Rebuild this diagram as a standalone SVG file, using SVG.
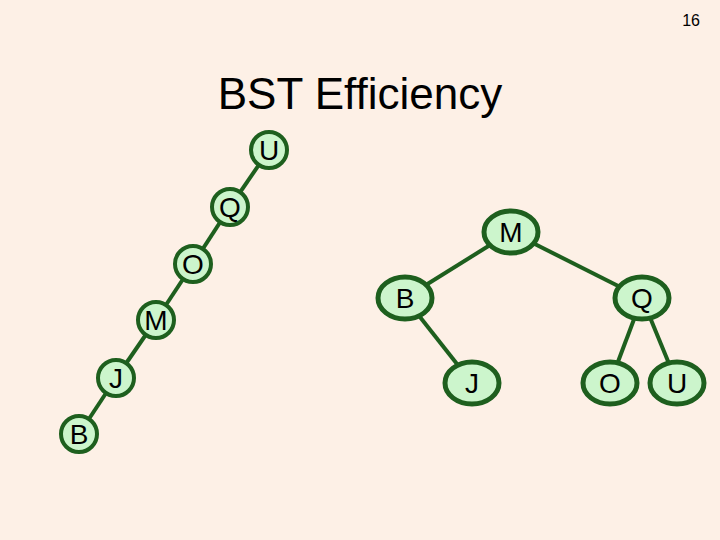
<svg xmlns="http://www.w3.org/2000/svg" width="720" height="540" viewBox="0 0 720 540">
<style>
.n{fill:#ccf5cc;stroke:#1e5f1e;stroke-width:4}
.e{fill:#ccf5cc;stroke:#1e5f1e;stroke-width:5}
.t{font-family:"Liberation Sans",Arial,sans-serif;font-size:28px;text-anchor:middle;fill:#000}
#edges line{stroke:#1e5f1e;stroke-width:4}
</style>
<rect width="720" height="540" fill="#fdf0e6"/>
<text x="700" y="26" font-family="Liberation Sans,Arial,sans-serif" font-size="16" text-anchor="end">16</text>
<text x="360" y="109" font-family="Liberation Sans,Arial,sans-serif" font-size="44" text-anchor="middle">BST Efficiency</text>
<g id="edges">
<line x1="269" y1="150" x2="230" y2="207"/><line x1="230" y1="207" x2="193" y2="264"/><line x1="193" y1="264" x2="156" y2="320"/><line x1="156" y1="320" x2="116" y2="378"/><line x1="116" y1="378" x2="79" y2="434"/>
<line x1="511" y1="232" x2="405" y2="298"/><line x1="511" y1="232" x2="642" y2="298"/><line x1="405" y1="298" x2="472" y2="383"/><line x1="642" y1="298" x2="610" y2="383"/><line x1="642" y1="298" x2="677" y2="383"/>
</g>
<g id="lU"><circle class="n" cx="269" cy="150" r="18"/><text class="t" x="269" y="160">U</text></g>
<g id="lQ"><circle class="n" cx="230" cy="207" r="18"/><text class="t" x="230" y="217">Q</text></g>
<g id="lO"><circle class="n" cx="193" cy="264" r="18"/><text class="t" x="193" y="274">O</text></g>
<g id="lM"><circle class="n" cx="156" cy="320" r="18"/><text class="t" x="156" y="330">M</text></g>
<g id="lJ"><circle class="n" cx="116" cy="378" r="18"/><text class="t" x="116" y="388">J</text></g>
<g id="lB"><circle class="n" cx="79" cy="434" r="18"/><text class="t" x="79" y="444">B</text></g>
<g id="rM"><ellipse class="e" cx="511" cy="232" rx="27" ry="21"/><text class="t" x="511" y="242">M</text></g>
<g id="rB"><ellipse class="e" cx="405" cy="298" rx="27" ry="21"/><text class="t" x="405" y="308">B</text></g>
<g id="rQ"><ellipse class="e" cx="642" cy="298" rx="27" ry="21"/><text class="t" x="642" y="308">Q</text></g>
<g id="rJ"><ellipse class="e" cx="472" cy="383" rx="27" ry="21"/><text class="t" x="472" y="393">J</text></g>
<g id="rO"><ellipse class="e" cx="610" cy="383" rx="27" ry="21"/><text class="t" x="610" y="393">O</text></g>
<g id="rU"><ellipse class="e" cx="677" cy="383" rx="27" ry="21"/><text class="t" x="677" y="393">U</text></g>
</svg>
